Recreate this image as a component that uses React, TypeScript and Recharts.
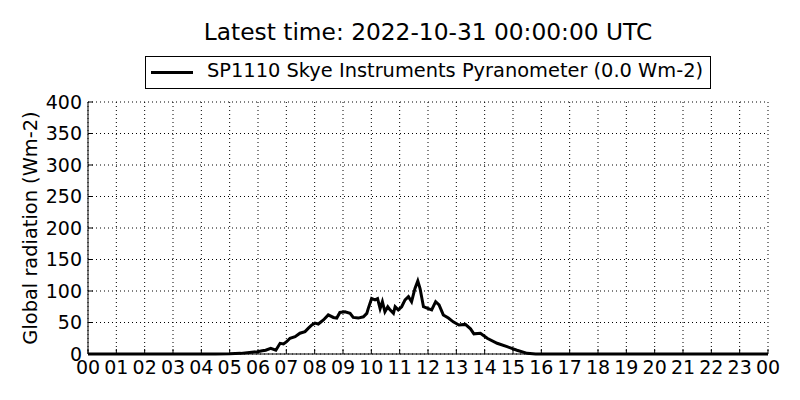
import { LineChart, Line, XAxis, YAxis, CartesianGrid, Legend } from 'recharts'

const FONT = '"DejaVu Sans", sans-serif'

// hour of day (UTC) and global radiation (Wm-2)
const hours = [
  0, 4.5, 5.0, 5.39, 5.7, 5.98, 6.15, 6.27, 6.45, 6.63, 6.78, 6.9, 7.01, 7.13, 7.31, 7.48, 7.66, 7.78, 7.9,
  8.01, 8.13, 8.31, 8.48, 8.66, 8.78, 8.89, 9.07, 9.25, 9.36, 9.54, 9.72, 9.84, 9.89, 10.01, 10.13, 10.22,
  10.31, 10.39, 10.48, 10.58, 10.66, 10.78, 10.84, 10.95, 11.07, 11.19, 11.31, 11.42, 11.54, 11.64, 11.72,
  11.84, 12.01, 12.13, 12.27, 12.39, 12.54, 12.72, 12.89, 13.09, 13.32, 13.5, 13.62, 13.85, 14.09, 14.44,
  14.79, 15.14, 15.5, 15.8, 24,
]
const radiation = [
  0, 0, 0.3, 1, 2.5, 3.7, 5, 6, 9, 6, 17, 16, 19.5, 25, 27.5, 33, 35.5, 41, 46,
  49, 47.6, 54, 62, 58, 57, 66, 67, 64.5, 58, 57, 59, 64.5, 72, 88, 86, 88,
  72, 83, 67, 75, 70, 64.5, 75, 70, 75, 86, 91, 83, 104, 116, 104,
  75, 72, 70, 83, 78, 62, 57, 51, 46, 47, 40, 32, 33, 25, 17,
  11.6, 6, 1, 0, 0,
]

const hourTicks = [0, 1, 2, 3, 4, 5, 6, 7, 8, 9, 10, 11, 12, 13, 14, 15, 16, 17, 18, 19, 20, 21, 22, 23, 24]
const hourLabels = [
  '00', '01', '02', '03', '04', '05', '06', '07', '08', '09', '10', '11', '12',
  '13', '14', '15', '16', '17', '18', '19', '20', '21', '22', '23', '00',
]
const radiationTicks = [0, 50, 100, 150, 200, 250, 300, 350, 400]

const seriesName = 'SP1110 Skye Instruments Pyranometer (0.0 Wm-2)'
const title = 'Latest time: 2022-10-31 00:00:00 UTC'

const data = hours.map((h, i) => ({ hour: h, value: radiation[i] }))

// matplotlib-style inward ticks
const BottomTick = ({ x, y, payload }: any) => (
  <g>
    <line x1={x} y1={y} x2={x} y2={y - 5} stroke="#000" />
    <text x={x} y={y} dy={19.5} textAnchor="middle" fontSize={19} fontFamily={FONT} fill="#000">
      {hourLabels[hourTicks.indexOf(payload.value)]}
    </text>
  </g>
)
const TopTick = ({ x, y }: any) => <line x1={x} y1={y} x2={x} y2={y + 5} stroke="#000" />
const LeftTick = ({ x, y, payload }: any) => (
  <g>
    <line x1={x} y1={y} x2={x + 5} y2={y} stroke="#000" />
    <text x={x - 6} y={y} dy={6.8} textAnchor="end" fontSize={19} fontFamily={FONT} fill="#000">
      {payload.value}
    </text>
  </g>
)
const RightTick = ({ x, y }: any) => <line x1={x} y1={y} x2={x - 5} y2={y} stroke="#000" />

const LegendBox = ({ payload }: any) => (
  <div style={{ width: 564, height: 31, border: '1px solid #000', background: '#fff', position: 'relative', fontFamily: FONT }}>
    <div style={{ position: 'absolute', left: 5, top: 14, width: 42, height: 3, background: '#000' }} />
    <span style={{ position: 'absolute', left: 61, top: 3, fontSize: 19.4, lineHeight: '22px', color: '#000', whiteSpace: 'nowrap' }}>
      {payload?.[0]?.value}
    </span>
  </div>
)

export default function App() {
  return (
    <div style={{ position: 'absolute', left: 0, top: 0, width: 800, height: 400, background: '#fff' }}>
      <div style={{ position: 'absolute', left: 88, top: 19, width: 680, textAlign: 'center', fontSize: 23.3, lineHeight: '26px', fontFamily: FONT, color: '#000' }}>
        {title}
      </div>
      <LineChart width={800} height={400} data={data} margin={{ top: 102, right: 32, bottom: 16, left: 28 }}>
        <CartesianGrid stroke="#000" strokeDasharray="1 3" strokeWidth={1} />
        <XAxis dataKey="hour" type="number" domain={[0, 24]} ticks={hourTicks} interval={0} height={30}
          axisLine={{ stroke: '#000' }} tickLine={false} tickSize={0} tickMargin={0} tick={<BottomTick />} />
        <XAxis xAxisId="top" orientation="top" dataKey="hour" type="number" domain={[0, 24]} ticks={hourTicks} interval={0} height={0}
          axisLine={{ stroke: '#000' }} tickLine={false} tickSize={0} tickMargin={0} tick={<TopTick />} />
        <YAxis type="number" domain={[0, 400]} ticks={radiationTicks} interval={0} width={60}
          axisLine={{ stroke: '#000' }} tickLine={false} tickSize={0} tickMargin={0} tick={<LeftTick />}
          label={{
            content: () => (
              <text transform="translate(30,228) rotate(-90)" textAnchor="middle" dominantBaseline="central"
                fontSize={19.4} fontFamily={FONT} fill="#000">
                Global radiation (Wm-2)
              </text>
            ),
          }} />
        <YAxis yAxisId="right" orientation="right" type="number" domain={[0, 400]} ticks={radiationTicks} interval={0} width={0}
          axisLine={{ stroke: '#000' }} tickLine={false} tickSize={0} tickMargin={0} tick={<RightTick />} />
        <Legend layout="horizontal" verticalAlign="middle" align="center" content={<LegendBox />}
          wrapperStyle={{ top: 56, left: 145, width: 566, height: 33 }} />
        <Line type="linear" dataKey="value" name={seriesName} stroke="#000" strokeWidth={3} dot={false}
          activeDot={false} isAnimationActive={false} />
      </LineChart>
    </div>
  )
}
